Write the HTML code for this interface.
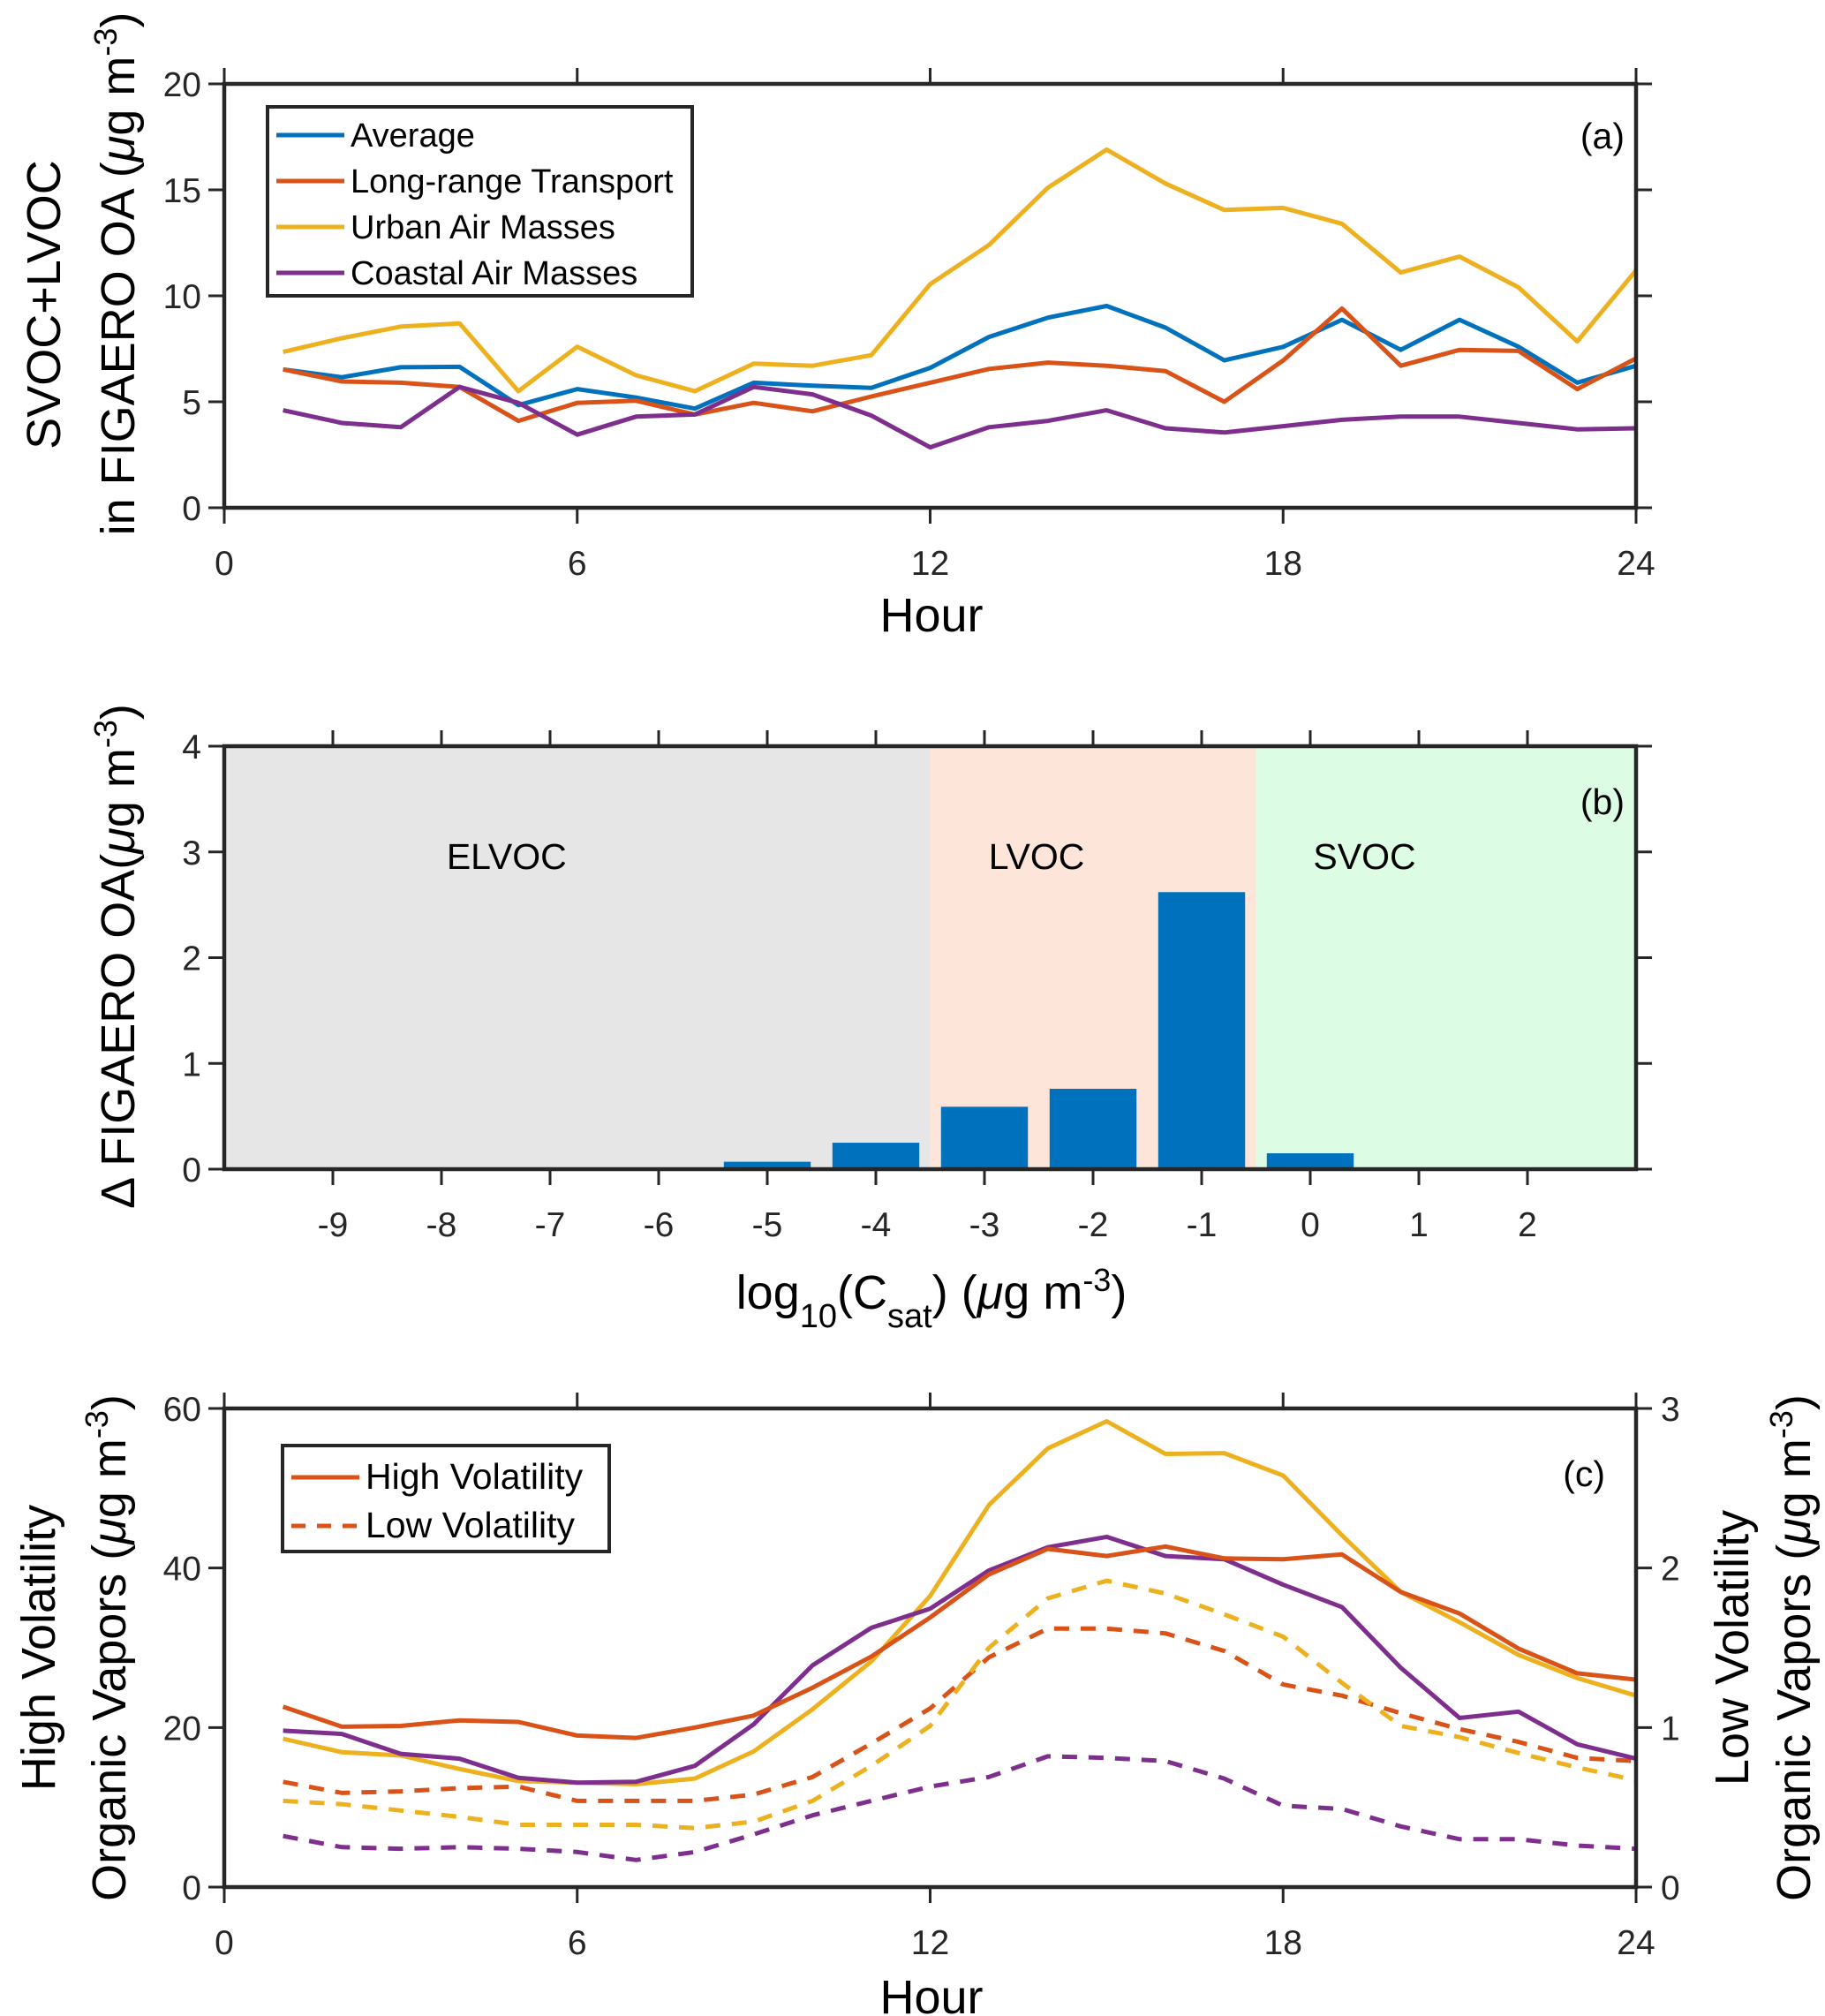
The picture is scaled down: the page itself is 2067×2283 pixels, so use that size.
<!DOCTYPE html>
<html><head><meta charset="utf-8"><style>
html,body{margin:0;padding:0;background:#fff;}
svg{display:block;font-family:"Liberation Sans",sans-serif;}
</style></head><body>
<svg id="fig" width="2067" height="2283" viewBox="0 0 2067 2283" xmlns="http://www.w3.org/2000/svg">
<rect width="2067" height="2283" fill="#fff"/>
<g id="pa"></g>
<g id="pb"></g>
<g id="pc"></g>
<text transform="translate(68,345) rotate(-90)" text-anchor="middle" font-size="54">SVOC+LVOC</text>
<text transform="translate(152,310) rotate(-90)" text-anchor="middle" font-size="54">in FIGAERO OA (<tspan font-style="italic">μ</tspan>g m<tspan baseline-shift="super" font-size="36">-3</tspan>)</text>
<text x="1055" y="715" text-anchor="middle" font-size="54">Hour</text>
<text transform="translate(152,1083) rotate(-90)" text-anchor="middle" font-size="54">Δ FIGAERO OA(<tspan font-style="italic">μ</tspan>g m<tspan baseline-shift="super" font-size="36">-3</tspan>)</text>
<text x="1055" y="1482" text-anchor="middle" font-size="54">log<tspan baseline-shift="sub" font-size="38">10</tspan>(C<tspan baseline-shift="sub" font-size="38">sat</tspan>) (<tspan font-style="italic">μ</tspan>g m<tspan baseline-shift="super" font-size="36">-3</tspan>)</text>
<text transform="translate(62,1866) rotate(-90)" text-anchor="middle" font-size="54">High Volatility</text>
<text transform="translate(142,1866) rotate(-90)" text-anchor="middle" font-size="54">Organic Vapors (<tspan font-style="italic">μ</tspan>g m<tspan baseline-shift="super" font-size="36">-3</tspan>)</text>
<text transform="translate(1980,1866) rotate(-90)" text-anchor="middle" font-size="54">Low Volatility</text>
<text transform="translate(2050,1866) rotate(-90)" text-anchor="middle" font-size="54">Organic Vapors  (<tspan font-style="italic">μ</tspan>g m<tspan baseline-shift="super" font-size="36">-3</tspan>)</text>
<text x="1055" y="2280" text-anchor="middle" font-size="54">Hour</text>
</svg>
<script>
var hours=[1,2,3,4,5,6,7,8,9,10,11,12,13,14,15,16,17,18,19,20,21,22,23,24];
var aAverage=[6.53,6.16,6.63,6.65,4.84,5.6,5.2,4.68,5.9,5.76,5.66,6.6,8.06,8.97,9.52,8.5,6.96,7.59,8.87,7.45,8.87,7.6,5.9,6.7];
var aLongRange=[6.53,5.96,5.9,5.7,4.1,4.95,5.05,4.4,4.95,4.55,5.25,5.9,6.55,6.85,6.7,6.45,5.0,6.95,9.4,6.7,7.45,7.4,5.6,7.05];
var aUrban=[7.35,8.0,8.55,8.7,5.5,7.6,6.25,5.5,6.8,6.7,7.2,10.55,12.4,15.1,16.9,15.3,14.05,14.15,13.4,11.1,11.85,10.4,7.85,11.2];
var aCoastal=[4.6,4.0,3.8,5.7,4.95,3.45,4.3,4.4,5.7,5.35,4.35,2.85,3.8,4.1,4.6,3.75,3.55,3.85,4.15,4.3,4.3,4.0,3.7,3.75];
var hourTicks=[0,6,12,18,24];
var aYTicks=[0,5,10,15,20];
var bBins=[-5,-4,-3,-2,-1,0];
var bValues=[0.07,0.25,0.59,0.76,2.62,0.15];
var bXTicks=[-9,-8,-7,-6,-5,-4,-3,-2,-1,0,1,2];
var bYTicks=[0,1,2,3,4];
var cHighLongRange=[22.6,20.1,20.2,20.9,20.7,19.0,18.7,20.0,21.5,25.0,28.9,33.8,39.2,42.4,41.5,42.7,41.2,41.1,41.7,37.0,34.3,29.9,26.8,26.0];
var cHighUrban=[18.6,16.9,16.5,14.8,13.3,13.1,12.9,13.6,17.0,22.3,28.3,36.5,47.9,55.0,58.4,54.3,54.4,51.6,44.1,37.0,33.2,29.1,26.2,24.0];
var cHighCoastal=[19.6,19.2,16.7,16.1,13.7,13.1,13.2,15.2,20.4,27.8,32.5,34.9,39.7,42.6,43.9,41.5,41.1,37.9,35.1,27.5,21.2,22.0,17.9,16.1];
var cLowLongRange=[0.66,0.59,0.60,0.62,0.63,0.54,0.54,0.54,0.58,0.69,0.90,1.12,1.44,1.62,1.62,1.59,1.48,1.27,1.20,1.09,0.99,0.91,0.81,0.79];
var cLowUrban=[0.54,0.52,0.48,0.44,0.39,0.39,0.39,0.37,0.41,0.54,0.76,1.01,1.50,1.81,1.92,1.84,1.71,1.57,1.28,1.01,0.94,0.84,0.75,0.67];
var cLowCoastal=[0.32,0.25,0.24,0.25,0.24,0.22,0.17,0.22,0.33,0.45,0.54,0.63,0.69,0.82,0.81,0.79,0.68,0.51,0.49,0.38,0.30,0.30,0.26,0.24];
var cYTicks=[0,20,40,60];
var cRightTicks=[0,1,2,3];

var NS="http://www.w3.org/2000/svg";
var C={blue:"#0072BD",orange:"#D95319",yellow:"#EDB120",purple:"#7E2F8E"};
var TF=39;
function mk(tag,parent,attrs){var e=document.createElementNS(NS,tag);for(var k in attrs)e.setAttribute(k,attrs[k]);parent.appendChild(e);return e;}
function lin(d0,d1,r0,r1){return function(v){return r0+(v-d0)*(r1-r0)/(d1-d0);};}
var L=254,R=1853;

function frame(g,top,bot,xs,xticks,ys,yticks,rightTicks,rs){
  var ax=mk("g",g,{});
  
  
  xticks.forEach(function(t){
    var x=xs(t);
    var tk=mk("line",ax,{x1:x,x2:x,y1:top-18,y2:top,stroke:"#262626","stroke-width":3});
    
    
    var tb=mk("line",ax,{x1:x,x2:x,y1:bot,y2:bot+18,stroke:"#262626","stroke-width":3});
    
    
    var lb=mk("text",ax,{x:x,y:bot+76,"text-anchor":"middle","font-size":TF,fill:"#262626"});
    lb.textContent=t;
    
    
  });
  yticks.forEach(function(t){
    var y=ys(t);
    var tl=mk("line",ax,{x1:L-18,x2:L,y1:y,y2:y,stroke:"#262626","stroke-width":3});
    
    
    var lb=mk("text",ax,{x:L-26,y:y+14,"text-anchor":"end","font-size":TF,fill:"#262626"});
    lb.textContent=t;
    
    
    if(!rightTicks){
      var tr=mk("line",ax,{x1:R,x2:R+18,y1:y,y2:y,stroke:"#262626","stroke-width":3});
      
      
    }
  });
  if(rightTicks){rightTicks.forEach(function(t){
    var y=rs(t);
    var tr=mk("line",ax,{x1:R,x2:R+18,y1:y,y2:y,stroke:"#262626","stroke-width":3});
    
    
    var lb=mk("text",ax,{x:R+28,y:y+14,"text-anchor":"start","font-size":TF,fill:"#262626"});
    lb.textContent=t;
    
    
  });}
  var bx=mk("rect",ax,{x:L,y:top,width:R-L,height:bot-top,fill:"none",stroke:"#262626","stroke-width":4.5});
  
  
}
function series(g,xs,ys,vals,color,name,dash){
  var d=hours.map(function(h,i){return (i?"L":"M")+xs(h).toFixed(1)+","+ys(vals[i]).toFixed(1);}).join("");
  var p=mk("path",g,{d:d,fill:"none",stroke:color,"stroke-width":5,"stroke-linejoin":"round"});
  if(dash)p.setAttribute("stroke-dasharray","17,13");
  
  
}
function legend(g,x,y,w,h,entries,rowH,fs){
  var lg=mk("g",g,{});
  
  
  var r=mk("rect",lg,{x:x,y:y,width:w,height:h,fill:"#fff",stroke:"#262626","stroke-width":4});
  
  
  entries.forEach(function(e,i){
    var cy=y+rowH[0]+i*rowH[1];
    var ln=mk("line",lg,{x1:x+10,x2:x+87,y1:cy,y2:cy,stroke:e[1],"stroke-width":5});
    if(e[2])ln.setAttribute("stroke-dasharray","16,13");
    
    
    var t=mk("text",lg,{x:x+94,y:cy+13,"font-size":fs,fill:"#000"});
    t.textContent=e[0];
    
    
  });
}

// Panel a
(function(){
  var g=document.getElementById("pa"),top=95,bot=575;
  var xs=lin(0,24,L,R),ys=lin(0,20,bot,top);
  series(g,xs,ys,aAverage,C.blue,"line-average");
  series(g,xs,ys,aLongRange,C.orange,"line-long-range-transport");
  series(g,xs,ys,aUrban,C.yellow,"line-urban-air-masses");
  series(g,xs,ys,aCoastal,C.purple,"line-coastal-air-masses");
  frame(g,top,bot,xs,hourTicks,ys,aYTicks);
  legend(g,303,121,481,214,[["Average",C.blue],["Long-range Transport",C.orange],["Urban Air Masses",C.yellow],["Coastal Air Masses",C.purple]],[32,52],38);
  var t=mk("text",g,{x:1840,y:168,"text-anchor":"end","font-size":41});t.textContent="(a)";
  
  
})();

// Panel b
(function(){
  var g=document.getElementById("pb"),top=845,bot=1324;
  var xs=lin(-10,3,L,R),ys=lin(0,4,bot,top);
  var regions=[[-10,-3.5,"#e6e6e6","region-elvoc"],[-3.5,-0.5,"#fde5d9","region-lvoc"],[-0.5,3,"#dcfde3","region-svoc"]];
  regions.forEach(function(r){
    var e=mk("rect",g,{x:xs(r[0]),y:top,width:xs(r[1])-xs(r[0]),height:bot-top,fill:r[2]});
    
    
  });
  bBins.forEach(function(b,i){
    var x0=xs(b-0.4),x1=xs(b+0.4),y=ys(bValues[i]);
    var e=mk("rect",g,{x:x0,y:y,width:x1-x0,height:bot-y,fill:"#0072BD"});
    
    
  });
  [["ELVOC",-7.4],["LVOC",-2.52],["SVOC",0.5]].forEach(function(l){
    var t=mk("text",g,{x:xs(l[1]),y:984,"text-anchor":"middle","font-size":41});t.textContent=l[0];
    
    
  });
  frame(g,top,bot,xs,bXTicks,ys,bYTicks);
  var t=mk("text",g,{x:1840,y:922,"text-anchor":"end","font-size":41});t.textContent="(b)";
  
  
})();

// Panel c
(function(){
  var g=document.getElementById("pc"),top=1595,bot=2137;
  var xs=lin(0,24,L,R),ys=lin(0,60,bot,top),rs=lin(0,3,bot,top);
  series(g,xs,rs,cLowLongRange,C.orange,"line-low-vol-long-range",true);
  series(g,xs,rs,cLowUrban,C.yellow,"line-low-vol-urban",true);
  series(g,xs,rs,cLowCoastal,C.purple,"line-low-vol-coastal",true);
  series(g,xs,ys,cHighUrban,C.yellow,"line-high-vol-urban");
  series(g,xs,ys,cHighCoastal,C.purple,"line-high-vol-coastal");
  series(g,xs,ys,cHighLongRange,C.orange,"line-high-vol-long-range");
  frame(g,top,bot,xs,hourTicks,ys,cYTicks,cRightTicks,rs);
  legend(g,320,1637,370,120,[["High Volatility",C.orange,false],["Low Volatility",C.orange,true]],[36,55],41);
  var t=mk("text",g,{x:1818,y:1683,"text-anchor":"end","font-size":41});t.textContent="(c)";
  
  
})();
</script>
</body></html>
